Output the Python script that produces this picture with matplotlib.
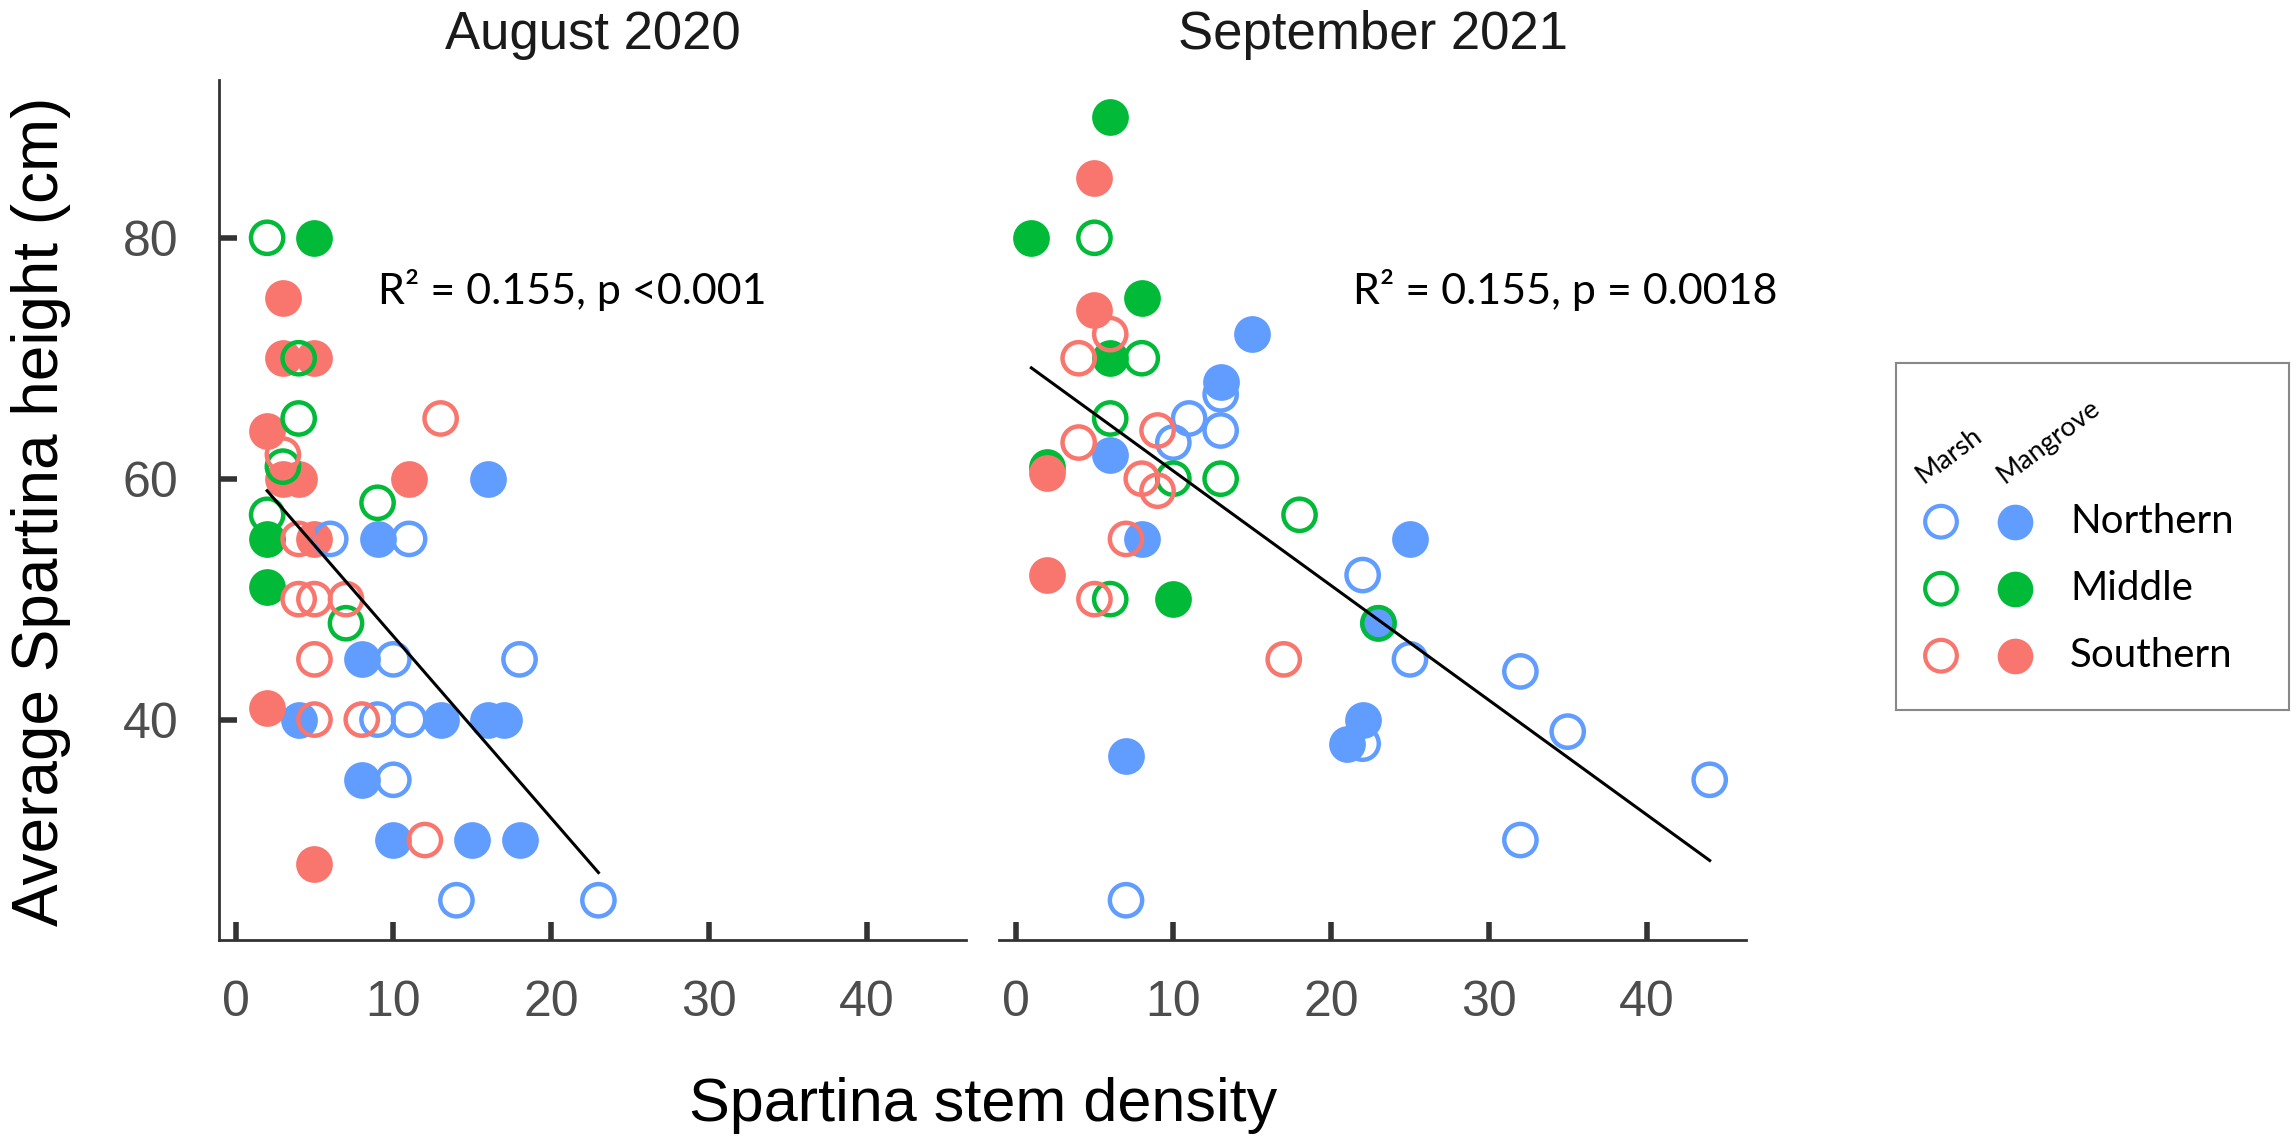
import matplotlib.pyplot as plt

# ggplot-like hue palette
col_north = "#619CFF"
col_mid = "#00BA38"
col_south = "#F8766D"

# ---- August 2020 (stem density, height) ----
aug_north_marsh_x = [6, 11, 10, 18, 9, 11, 10, 14, 23]
aug_north_marsh_y = [55, 55, 45, 45, 40, 40, 35, 25, 25]
aug_north_mang_x = [16, 9, 8, 4, 13, 16, 17, 8, 10, 15, 18]
aug_north_mang_y = [60, 55, 45, 40, 40, 40, 40, 35, 30, 30, 30]
aug_mid_marsh_x = [2, 4, 4, 3, 9, 2, 7]
aug_mid_marsh_y = [80, 70, 65, 61, 58, 57, 48]
aug_mid_mang_x = [5, 2, 2]
aug_mid_mang_y = [80, 55, 51]
aug_south_marsh_x = [3, 13, 4, 4, 5, 7, 5, 5, 8, 12]
aug_south_marsh_y = [62, 65, 55, 50, 50, 50, 45, 40, 40, 30]
aug_south_mang_x = [3, 3, 5, 2, 3, 4, 11, 5, 2, 5]
aug_south_mang_y = [75, 70, 70, 64, 60, 60, 60, 55, 41, 28]
aug_fit_x = [2, 23]
aug_fit_y = [59.0, 27.3]

# ---- September 2021 ----
sep_north_marsh_x = [13, 11, 13, 10, 22, 25, 32, 22, 35, 44, 32, 7]
sep_north_marsh_y = [67, 65, 64, 63, 52, 45, 44, 38, 39, 35, 30, 25]
sep_north_mang_x = [15, 13, 6, 8, 25, 23, 22, 21, 7]
sep_north_mang_y = [72, 68, 62, 55, 55, 48, 40, 38, 37]
sep_mid_marsh_x = [5, 8, 6, 10, 13, 18, 6, 23]
sep_mid_marsh_y = [80, 70, 65, 60, 60, 57, 50, 48]
sep_mid_mang_x = [6, 1, 8, 6, 2, 10]
sep_mid_mang_y = [90, 80, 75, 70, 61, 50]
sep_south_marsh_x = [6, 4, 9, 4, 8, 9, 7, 5, 17]
sep_south_marsh_y = [72, 70, 64, 63, 60, 59, 55, 50, 45]
sep_south_mang_x = [5, 5, 2, 2]
sep_south_mang_y = [85, 74, 60.5, 52]
sep_fit_x = [1, 44]
sep_fit_y = [69.2, 28.3]

titles = ["August 2020", "September 2021"]
stats = ["R\u00b2 = 0.155, p <0.001", "R\u00b2 = 0.155, p = 0.0018"]
regions = ["Northern", "Middle", "Southern"]
region_cols = [col_north, col_mid, col_south]

panels = [
    dict(filled=[(aug_north_mang_x, aug_north_mang_y), (aug_mid_mang_x, aug_mid_mang_y),
                 (aug_south_mang_x, aug_south_mang_y)],
         open=[(aug_north_marsh_x, aug_north_marsh_y), (aug_mid_marsh_x, aug_mid_marsh_y),
               (aug_south_marsh_x, aug_south_marsh_y)],
         fit=(aug_fit_x, aug_fit_y), stat_pos=(9.0, 75.7)),
    dict(filled=[(sep_north_mang_x, sep_north_mang_y), (sep_mid_mang_x, sep_mid_mang_y),
                 (sep_south_mang_x, sep_south_mang_y)],
         open=[(sep_north_marsh_x, sep_north_marsh_y), (sep_mid_marsh_x, sep_mid_marsh_y),
               (sep_south_marsh_x, sep_south_marsh_y)],
         fit=(sep_fit_x, sep_fit_y), stat_pos=(21.4, 75.7)),
]

plt.rcParams["font.family"] = ["Liberation Sans", "DejaVu Sans"]
fig = plt.figure(figsize=(22.96, 11.46), dpi=100)

W, H = 2296, 1146
ax_w = 747 / W
ax_h = 860 / H
ax_bottom = 1 - 940 / H
ax1 = fig.add_axes([219 / W, ax_bottom, ax_w, ax_h])
ax2 = fig.add_axes([999 / W, ax_bottom, ax_w, ax_h])

for i, (ax, p) in enumerate(zip((ax1, ax2), panels)):
    # mangrove (filled) first, marsh (open) on top
    for (xs, ys), c in zip(p["filled"], region_cols):
        ax.scatter(xs, ys, s=700, color=c, linewidths=0, zorder=2)
    for (xs, ys), c in zip(p["open"], region_cols):
        ax.scatter(xs, ys, s=540, facecolors="none", edgecolors=c, linewidths=3.2, zorder=2)
    ax.plot(p["fit"][0], p["fit"][1], color="black", lw=2.2, zorder=3)
    ax.text(p["stat_pos"][0], p["stat_pos"][1], stats[i], family=["Lato", "DejaVu Sans"],
            fontsize=31, ha="left", va="center")

    ax.set_xlim(-1.05, 46.3)
    ax.set_ylim(21.7, 93.1)
    ax.set_xticks([0, 10, 20, 30, 40])
    ax.set_yticks([40, 60, 80])
    ax.spines["top"].set_visible(False)
    ax.spines["right"].set_visible(False)
    for sp in ("left", "bottom"):
        ax.spines[sp].set_linewidth(2)
        ax.spines[sp].set_color("#333333")
    ax.tick_params(direction="in", length=13, width=4, color="#333333",
                   labelsize=36, labelcolor="#4D4D4D", pad=29)
    ax.set_title(titles[i], fontsize=38, color="#1A1A1A", pad=22)

ax2.spines["left"].set_visible(False)
ax2.tick_params(axis="y", left=False, labelleft=False)

fig.text(41 / W, 1 - 511 / H, "Average Spartina height (cm)", rotation=90,
         fontsize=46, ha="center", va="center")
fig.text(983 / W, 1 - 1105 / H, "Spartina stem density", fontsize=44,
         ha="center", va="center")

# legend panel: column 0 = marsh (open), column 1 = mangrove (filled)
lg = fig.add_axes([1896 / W, 1 - 710 / H, 393 / W, 347 / H])
lg.set_xlim(-45 / 74, 348 / 74)
lg.set_ylim(188.3 / 67, -158.7 / 67)
lg.set_xticks([])
lg.set_yticks([])
for sp in lg.spines.values():
    sp.set_color("#888888")
    sp.set_linewidth(1.5)
rows = list(range(len(regions)))
for r, c in zip(rows, region_cols):
    lg.scatter([0], [r], s=520, facecolors="none", edgecolors=c, linewidths=3)
    lg.scatter([1], [r], s=660, color=c, linewidths=0)
for r, name in zip(rows, regions):
    lg.text(129 / 74, r, name, family=["Lato", "DejaVu Sans"], fontsize=29,
            ha="left", va="center")
lg.text(-0.19, -0.5, "Marsh", family=["Lato", "DejaVu Sans"], fontsize=19.5,
        rotation=37, rotation_mode="anchor", ha="left", va="bottom")
lg.text(0.9, -0.5, "Mangrove", family=["Lato", "DejaVu Sans"], fontsize=19.5,
        rotation=37, rotation_mode="anchor", ha="left", va="bottom")

fig.savefig("out.png", dpi=100)
